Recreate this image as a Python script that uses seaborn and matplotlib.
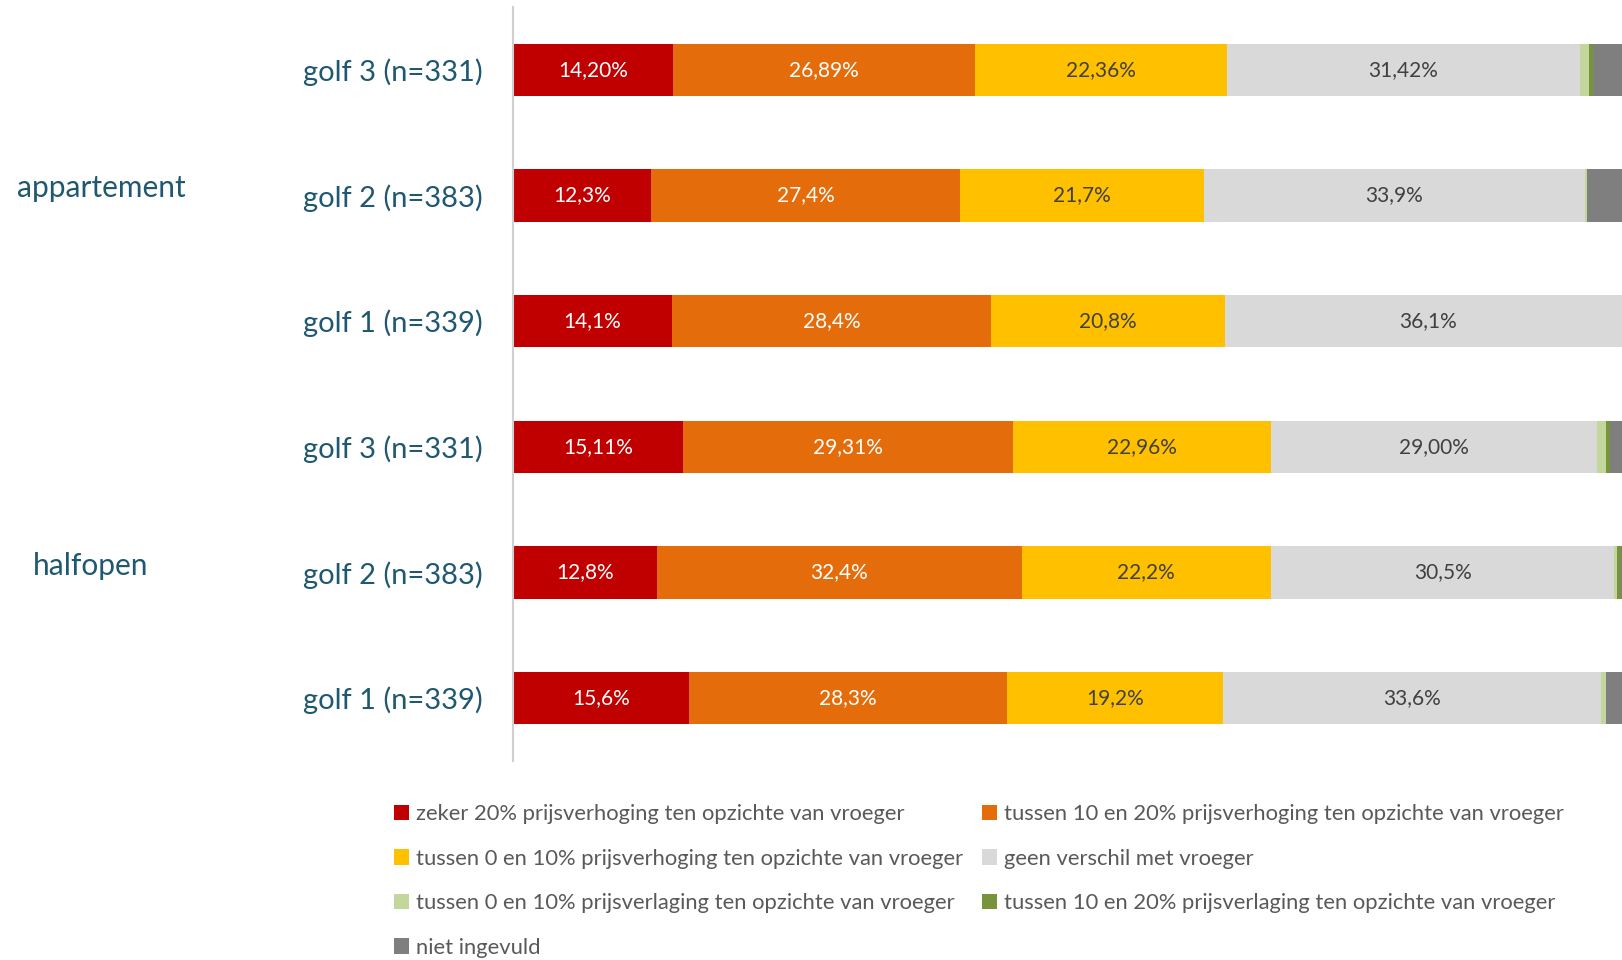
import numpy as np
import pandas as pd
import seaborn as sns
import matplotlib.pyplot as plt
from matplotlib.patches import Patch
from matplotlib.transforms import blended_transform_factory

sns.set_style('white')
plt.rcParams['font.family'] = ['Lato', 'DejaVu Sans']

# rijen (van boven naar onder)
rijen = ['golf 3 (n=331)', 'golf 2 (n=383)', 'golf 1 (n=339)',
         'golf 3 (n=331)', 'golf 2 (n=383)', 'golf 1 (n=339)']
groepen = ['appartement', 'halfopen']

categorieen = ['zeker 20% prijsverhoging ten opzichte van vroeger',
               'tussen 10 en 20% prijsverhoging ten opzichte van vroeger',
               'tussen 0 en 10% prijsverhoging ten opzichte van vroeger',
               'geen verschil met vroeger',
               'tussen 0 en 10% prijsverlaging ten opzichte van vroeger',
               'tussen 10 en 20% prijsverlaging ten opzichte van vroeger',
               'niet ingevuld']

zeker20 = [14.20, 12.3, 14.1, 15.11, 12.8, 15.6]
verh10_20 = [26.89, 27.4, 28.4, 29.31, 32.4, 28.3]
verh0_10 = [22.36, 21.7, 20.8, 22.96, 22.2, 19.2]
geen = [31.42, 33.9, 36.1, 29.00, 30.5, 33.6]
verl0_10 = [0.8, 0.2, 0.3, 0.8, 0.2, 0.5]
verl10_20 = [0.35, 0.0, 0.0, 0.35, 0.4, 0.0]
niet = [3.98, 4.5, 0.3, 2.47, 1.5, 2.8]

labels_tekst = [
    ['14,20%', '12,3%', '14,1%', '15,11%', '12,8%', '15,6%'],
    ['26,89%', '27,4%', '28,4%', '29,31%', '32,4%', '28,3%'],
    ['22,36%', '21,7%', '20,8%', '22,96%', '22,2%', '19,2%'],
    ['31,42%', '33,9%', '36,1%', '29,00%', '30,5%', '33,6%'],
]

kleuren = ['#C00000', '#E46C0A', '#FFC000', '#D9D9D9', '#C3D69B', '#77933C', '#7F7F7F']
tekstkleuren = ['white', 'white', '#404040', '#404040']

waarden = np.array([zeker20, verh10_20, verh0_10, geen, verl0_10, verl10_20, niet])
cum = waarden.cumsum(axis=0)
sleutels = [f'r{j}' for j in range(len(rijen))]

fig = plt.figure(figsize=(16.22, 9.6), dpi=100)
ax = fig.add_axes([513 / 1622, 1 - 761 / 960, 1125 / 1622, 754 / 960])

# gestapelde balken: eerst de totale lengte, dan telkens korter erover
for i in range(len(categorieen) - 1, -1, -1):
    df = pd.DataFrame({'rij': sleutels, 'eind': cum[i]})
    sns.barplot(data=df, x='eind', y='rij', color=kleuren[i], saturation=1,
                width=0.414, orient='h', ax=ax, linewidth=0)

# labels in de balken
for i in range(4):
    start = cum[i] - waarden[i]
    for j in range(len(rijen)):
        ax.text(start[j] + waarden[i][j] / 2, j, labels_tekst[i][j],
                ha='center', va='center', fontsize=15, color=tekstkleuren[i])

ax.set_xlim(0, 100)
ax.set_ylim(5.5, -0.5)
ax.set_xlabel('')
ax.set_ylabel('')
ax.set_xticks([])
ax.set_yticks(range(len(rijen)))
ax.set_yticklabels(rijen)
ax.tick_params(axis='y', length=0, pad=22, labelsize=21, labelcolor='#1F5870')
for s in ['top', 'right', 'bottom']:
    ax.spines[s].set_visible(False)
ax.spines['left'].set_color('#D0D0D0')
ax.spines['left'].set_linewidth(1.5)

# groepsnamen
tr = blended_transform_factory(fig.transFigure, ax.transData)
ax.text(17 / 1622, 0.94, groepen[0], transform=tr, ha='left', va='center',
        fontsize=21.5, color='#1F5870')
ax.text(33 / 1622, 3.95, groepen[1], transform=tr, ha='left', va='center',
        fontsize=21.5, color='#1F5870')

# legenda
volgorde = [0, 2, 4, 6, 1, 3, 5]
handles = [Patch(facecolor=kleuren[k], edgecolor='none') for k in volgorde]
fig.legend(handles, [categorieen[k] for k in volgorde], ncol=2,
           loc='upper left', bbox_to_anchor=(383 / 1622, 1 - 793 / 960),
           frameon=False, fontsize=15.8, labelcolor='#595959',
           handlelength=0.7, handleheight=0.7, handletextpad=0.3,
           columnspacing=0.85, labelspacing=1.12, borderpad=0)

plt.savefig('out.png', dpi=100)
